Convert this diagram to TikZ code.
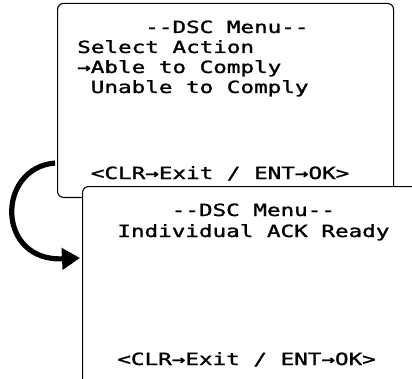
\documentclass[tikz,border=0pt]{standalone}
\usepackage{fontspec}
\newfontfamily\lcdfont[FakeBold=1.2]{DejaVu Sans Mono}
\usetikzlibrary{arrows.meta}
\newcommand{\lsp}{\phantom{0}}
\begin{document}
\begin{tikzpicture}[x=1pt,y=1pt,
  screen/.style={draw=black, line width=1.1pt, fill=white, rounded corners=6pt, inner sep=0pt},
  lcdtext/.style={anchor=base west, inner sep=0pt, font=\lcdfont\fontsize{16.8}{18}\selectfont, xscale=1.345},
  flow/.style={line width=5.2pt, -{Triangle[length=18pt,width=21pt]}}]
\useasboundingbox (0,0) rectangle (412,378);
\clip (0,0) rectangle (412,378);
\node[screen, anchor=south west, minimum width=336pt, minimum height=194pt] (s1) at (57,180) {};
\node[lcdtext] (t11) at (77,345) {\lsp\lsp\lsp\lsp\lsp--DSC Menu--};
\node[lcdtext] (t12) at (77,325) {Select Action};
\node[lcdtext] (t13) at (77,305) {→Able to Comply};
\node[lcdtext] (t14) at (77,285) {\lsp Unable to Comply};
\node[lcdtext] (t15) at (77,199) {\lsp<CLR→Exit / ENT→OK>};
\node[screen, anchor=north west, minimum width=360pt, minimum height=220pt] (s2) at (82,192) {};
\node[lcdtext] (t21) at (103.5,162) {\lsp\lsp\lsp\lsp\lsp--DSC Menu--};
\node[lcdtext] (t22) at (103.5,141) {\lsp Individual ACK Ready};
\node[lcdtext] (t23) at (103.5,13) {\lsp<CLR→Exit / ENT→OK>};
\coordinate (a1) at (55,215);
\coordinate (a2) at (80,120);
\draw[flow] (a1) .. controls (-4,210) and (-4,116) .. (a2);
\end{tikzpicture}
\end{document}
